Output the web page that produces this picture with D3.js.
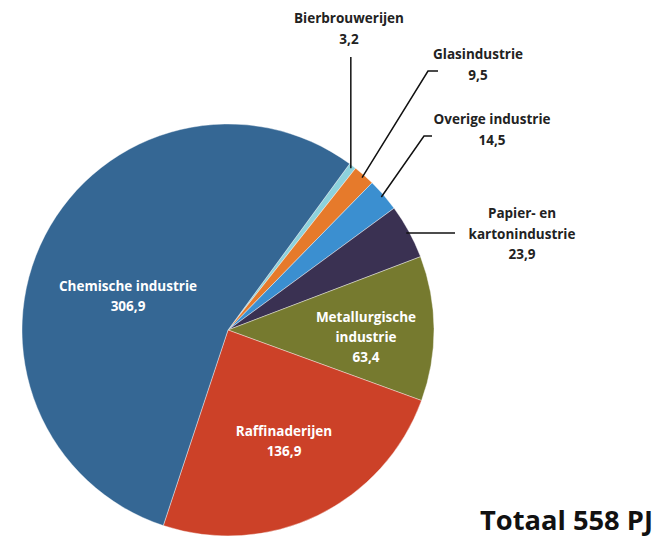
<!DOCTYPE html>
<html>
<head>
<meta charset="utf-8">
<script src="https://cdn.jsdelivr.net/npm/d3@7"></script>
<style>
  html, body { margin: 0; padding: 0; background: #fff; }
  svg text { font-family: "Open Sans", "Noto Sans", sans-serif; font-weight: 700; }
</style>
</head>
<body>
<svg id="chart" width="667" height="545"></svg>
<script>
// Energy use per industry sector (PJ), clockwise from the top
const sectors = ["Bierbrouwerijen", "Glasindustrie", "Overige industrie", "Papier- en kartonindustrie",
                 "Metallurgische industrie", "Raffinaderijen", "Chemische industrie"];
const values = [3.2, 9.5, 14.5, 23.9, 63.4, 136.9, 306.9];
const colors = ["#8dd2dc", "#e67a2b", "#3b8fd0", "#3a3152", "#767a2f", "#cc4128", "#356794"];
const totalLabel = "Totaal 558 PJ";

const fmt = v => String(v).replace(".", ",");

const svg = d3.select("#chart");
const cx = 228, cy = 330, r = 206;
const startAngle = 36.2 * Math.PI / 180;

const pie = d3.pie().sort(null).value(d => d.value)
  .startAngle(startAngle).endAngle(startAngle + 2 * Math.PI);
const data = sectors.map((s, i) => ({ name: s, value: values[i], color: colors[i] }));
const arcs = pie(data);
const arc = d3.arc().innerRadius(0).outerRadius(r);

const g = svg.append("g").attr("transform", `translate(${cx},${cy})`);
g.selectAll("path").data(arcs).join("path")
  .attr("d", arc)
  .attr("fill", d => d.data.color)
  .attr("stroke", "#ffffff")
  .attr("stroke-width", 0.4);

// Point on the rim at a given slice's mid angle
const rim = (d, rr) => {
  const a = (d.startAngle + d.endAngle) / 2;
  return [cx + rr * Math.sin(a), cy - rr * Math.cos(a)];
};

// Outside labels with leader lines
const outside = [
  { i: 0, lines: ["Bierbrouwerijen"], lx: 349, ly: 23, path: p => [[p[0], p[1]], [p[0], 57]] },
  { i: 1, lines: ["Glasindustrie"], lx: 478, ly: 59, path: p => [p, [428, 71], [438, 71]] },
  { i: 2, lines: ["Overige industrie"], lx: 492, ly: 124, path: p => [p, [424, 136], [432, 136]] },
  { i: 3, lines: ["Papier- en", "kartonindustrie"], lx: 522, ly: 218, path: p => [p, [455, p[1]]] }
];

const line = d3.line();
outside.forEach(o => {
  const d = arcs[o.i];
  const p = rim(d, r - 3);
  svg.append("path")
    .attr("d", line(o.path(p)))
    .attr("fill", "none")
    .attr("stroke", "#111")
    .attr("stroke-width", 1.5);
  const t = svg.append("text")
    .attr("x", o.lx).attr("y", o.ly)
    .attr("text-anchor", "middle")
    .attr("font-size", 13.5)
    .attr("fill", "#222");
  o.lines.concat([fmt(d.data.value)]).forEach((s, k) => {
    t.append("tspan").attr("x", o.lx).attr("dy", k === 0 ? 0 : 20.5).text(s);
  });
});

// Inside labels
const inside = [
  { i: 6, lines: ["Chemische industrie"], lx: 128, ly: 291 },
  { i: 4, lines: ["Metallurgische", "industrie"], lx: 366, ly: 322 },
  { i: 5, lines: ["Raffinaderijen"], lx: 284, ly: 436 }
];
inside.forEach(o => {
  const d = arcs[o.i];
  const t = svg.append("text")
    .attr("x", o.lx).attr("y", o.ly)
    .attr("text-anchor", "middle")
    .attr("font-size", 13.5)
    .attr("fill", "#ffffff");
  o.lines.concat([fmt(d.data.value)]).forEach((s, k) => {
    t.append("tspan").attr("x", o.lx).attr("dy", k === 0 ? 0 : 20).text(s);
  });
});

svg.append("text")
  .attr("x", 653).attr("y", 530)
  .attr("text-anchor", "end")
  .attr("font-size", 27.3)
  .attr("fill", "#111")
  .text(totalLabel);
</script>
</body>
</html>
